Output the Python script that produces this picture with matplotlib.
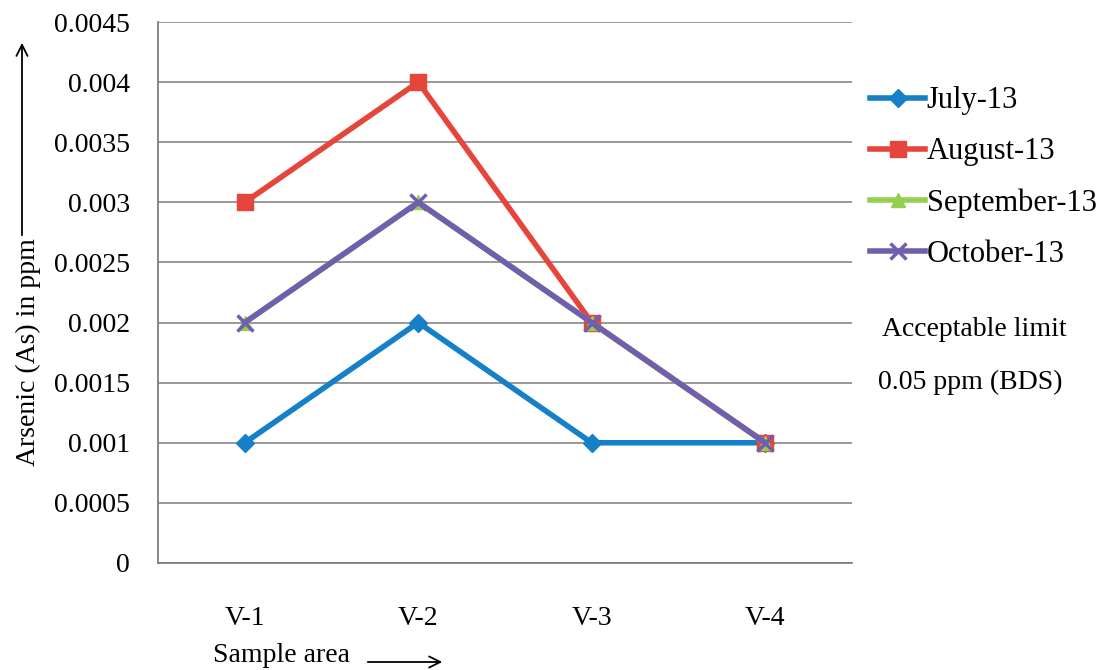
import matplotlib.pyplot as plt

plt.rcParams['font.family'] = ['Liberation Serif', 'DejaVu Serif']

sites = ["V-1", "V-2", "V-3", "V-4"]
july = [0.001, 0.002, 0.001, 0.001]
august = [0.003, 0.004, 0.002, 0.001]
september = [0.002, 0.003, 0.002, 0.001]
october = [0.002, 0.003, 0.002, 0.001]
yticks = [0, 0.0005, 0.001, 0.0015, 0.002, 0.0025, 0.003, 0.0035, 0.004, 0.0045]
ytick_labels = ["0", "0.0005", "0.001", "0.0015", "0.002", "0.0025", "0.003", "0.0035", "0.004", "0.0045"]

fig = plt.figure(figsize=(11.17, 6.70), dpi=100)
ax = fig.add_axes([158/1117, 1 - 563/670, 694/1117, 541/670])

x = range(len(sites))
series = [
    ("July-13", july, "#1580c8", "D", 9),
    ("August-13", august, "#e5453b", "s", 11),
    ("September-13", september, "#94cf4e", "^", 10),
    ("October-13", october, "#6f5fae", "x", 11),
]
for name, vals, col, mk, ms in series:
    ax.plot(x, vals, color=col, lw=4, marker=mk, ms=ms, mew=2.5 if mk == "x" else 1,
            mec=col, mfc=col, label=name, zorder=3)

ax.set_xlim(-0.5, 3.5)
ax.set_ylim(0, 0.0045)
ax.set_yticks(yticks)
ax.set_yticklabels(ytick_labels, fontsize=20)
ax.set_xticks(list(x))
ax.set_xticklabels(sites, fontsize=20)
ax.tick_params(axis='x', length=0, pad=31)
ax.tick_params(axis='y', length=0, pad=20)
ax.yaxis.grid(True, color="#888888", lw=1.2)
ax.set_axisbelow(True)
for s in ["top", "right"]:
    ax.spines[s].set_visible(False)
for s in ["left", "bottom"]:
    ax.spines[s].set_color("#777777")
    ax.spines[s].set_linewidth(1.2)

# y label with arrow
fig.text(28/1117, 1 - 352/670, "Arsenic (As) in ppm", rotation=90, fontsize=20,
         ha='center', va='center')
ax.annotate("", xy=(22/1117, 1 - 40/670), xytext=(22/1117, 1 - 238/670),
            xycoords='figure fraction', textcoords='figure fraction',
            arrowprops=dict(arrowstyle='->', lw=1.3, color='black', mutation_scale=20))

# x label with arrow
fig.text(213/1117, 1 - 655/670, "Sample area", fontsize=20, ha='left', va='center')
ax.annotate("", xy=(445/1117, 1 - 662/670), xytext=(365/1117, 1 - 662/670),
            xycoords='figure fraction', textcoords='figure fraction',
            arrowprops=dict(arrowstyle='->', lw=1.3, color='black', mutation_scale=20))

leg = fig.legend(loc='upper left', bbox_to_anchor=(858/1117, 1 - 74/670), frameon=False,
                 fontsize=22, handlelength=1.8, handletextpad=0.05, labelspacing=0.72,
                 borderaxespad=0)

fig.text(882/1117, 1 - 330/670, "Acceptable limit", fontsize=20, ha='left', va='center')
fig.text(878/1117, 1 - 382/670, "0.05 ppm (BDS)", fontsize=20, ha='left', va='center')

fig.savefig("out.png", dpi=100)
